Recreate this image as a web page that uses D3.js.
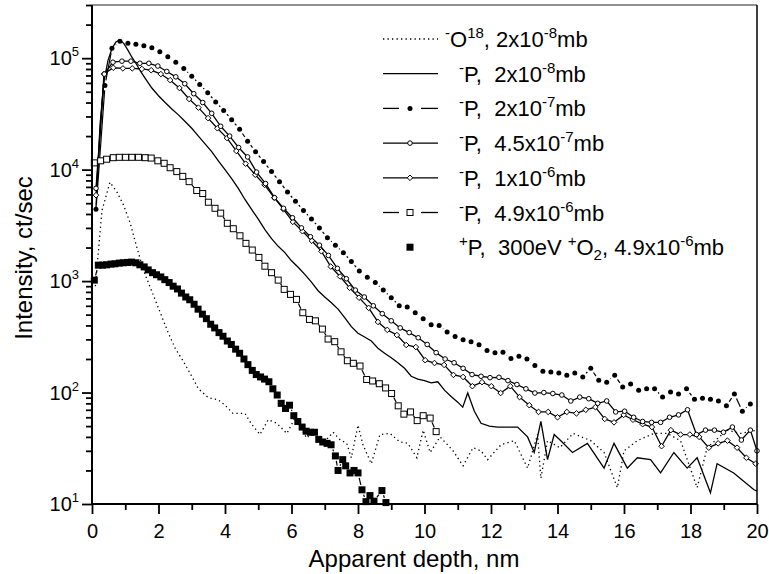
<!DOCTYPE html>
<html>
<head>
<meta charset="utf-8">
<script src="https://cdn.jsdelivr.net/npm/d3@7"></script>
<style>
body{margin:0;background:#fff;}
svg text{font-family:"Liberation Sans",Arial,sans-serif;fill:#000;}
</style>
</head>
<body>
<div class="plot"></div>
<script>
// depth (nm), intensity (ct/sec) pairs
var o18 = [[0.1,900],[0.3,4300],[0.54,7700],[0.75,6300],[0.95,4800],[1.15,3300],[1.35,2000],[1.55,1250],[1.7,960],[1.9,680],[2.1,480],[2.3,340],[2.5,250],[2.75,190],[3.0,140],[3.2,108],[3.5,90],[3.8,86],[4.0,77],[4.24,65],[4.6,65],[4.8,52],[5.05,42],[5.3,57],[5.56,53],[5.86,43],[6.1,59],[6.46,39],[6.7,46],[6.95,35],[7.25,44],[7.45,38],[7.66,35],[7.8,26],[8.0,51],[8.15,34],[8.4,23],[8.66,42],[8.96,43],[9.26,36],[9.5,35],[9.77,26],[9.96,46],[10.17,29],[10.47,40],[10.86,30],[11.16,22],[11.46,32],[11.7,30],[11.9,25],[12.3,34],[12.7,37],[13.1,21],[13.4,42],[13.5,17],[13.7,37],[14.07,32],[14.47,43],[15.0,37],[15.4,29],[15.8,14],[16.0,30],[16.4,37],[16.9,43],[17.3,43],[17.7,37],[18.2,14],[18.5,32],[19.1,46],[19.5,43],[20,46]];

var p2e8 = [[0.12,4500],[0.24,25000],[0.36,62000],[0.48,95000],[0.6,122000],[0.72,140000],[0.84,146000],[0.96,135000],[1.08,118000],[1.2,102000],[1.32,90000],[1.44,78000],[1.6,66000],[1.8,54000],[2.0,46000],[2.2,40000],[2.4,35000],[2.6,31000],[2.8,27000],[3.0,23500],[3.2,20000],[3.4,17000],[3.6,14500],[3.8,12000],[4.0,10000],[4.2,8300],[4.4,6800],[4.6,5400],[4.8,4400],[5.0,3600],[5.2,2900],[5.4,2400],[5.6,2050],[5.8,1800],[6.0,1520],[6.2,1330],[6.4,1150],[6.6,980],[6.8,820],[7.0,720],[7.2,640],[7.4,560],[7.6,470],[7.8,390],[8.0,340],[8.2,315],[8.4,290],[8.6,250],[8.8,225],[9.0,205],[9.2,185],[9.4,165],[9.6,140],[9.8,132],[10.0,128],[10.2,122],[10.4,125],[10.6,105],[10.8,92],[11.0,82],[11.15,74],[11.3,99],[11.5,68],[11.7,53],[11.95,50],[12.2,49],[12.5,49],[12.8,49],[13.1,40],[13.3,29],[13.5,55],[13.7,25],[13.9,42],[14.1,37],[14.45,29],[14.9,35],[15.4,21],[15.7,35],[16.1,21],[16.4,26],[16.8,25],[17.1,19],[17.5,29],[17.9,21],[18.2,26],[18.6,12.6],[18.8,23],[19.3,19],[19.9,13.5],[20,13]];

var p2e7 = [[0.12,4400],[0.39,57000],[0.6,123000],[0.84,142000],[1.08,136000],[1.32,133000],[1.56,129000],[1.8,124000],[2.04,114000],[2.28,103000],[2.52,92000],[2.76,81000],[3.0,69000],[3.24,58000],[3.48,49000],[3.72,40500],[3.96,34000],[4.2,28000],[4.44,23000],[4.68,18000],[4.92,14500],[5.16,11800],[5.4,9600],[5.64,7800],[5.88,6300],[6.12,5200],[6.36,4300],[6.6,3600],[6.84,3000],[7.08,2450],[7.32,2100],[7.56,1800],[7.8,1500],[8.04,1230],[8.28,1080],[8.52,970],[8.76,830],[9.0,710],[9.24,600],[9.48,585],[9.72,520],[9.96,460],[10.2,405],[10.44,400],[10.68,350],[10.92,318],[11.16,298],[11.4,285],[11.64,268],[11.88,238],[12.12,228],[12.36,230],[12.6,202],[12.84,212],[13.08,200],[13.32,175],[13.56,155],[13.8,153],[14.04,150],[14.28,143],[14.52,150],[14.76,138],[15.0,165],[15.24,129],[15.48,124],[15.72,143],[15.96,112],[16.2,119],[16.44,105],[16.68,108],[16.92,108],[17.16,91],[17.4,101],[17.64,97],[17.88,108],[18.12,87],[18.36,89],[18.6,87],[18.84,84],[19.08,76],[19.32,97],[19.56,68],[19.8,79]];

var p45e7 = [[0.12,6800],[0.37,72000],[0.63,92000],[0.9,94000],[1.17,94000],[1.44,90000],[1.71,90000],[1.98,85000],[2.25,76000],[2.52,68000],[2.79,59000],[3.06,48000],[3.33,40000],[3.6,32000],[3.87,24500],[4.14,20000],[4.41,15800],[4.68,13000],[4.95,9500],[5.22,7500],[5.49,5600],[5.76,4500],[6.03,3700],[6.3,3000],[6.57,2500],[6.84,2100],[7.11,1700],[7.38,1300],[7.65,1050],[7.92,830],[8.19,720],[8.46,600],[8.73,510],[9.0,440],[9.27,380],[9.54,345],[9.81,310],[10.08,270],[10.35,228],[10.62,200],[10.89,185],[11.16,165],[11.43,145],[11.7,140],[11.97,136],[12.24,137],[12.51,128],[12.78,118],[13.05,108],[13.32,99],[13.59,100],[13.86,98],[14.13,95],[14.4,84],[14.67,91],[14.94,88],[15.21,80],[15.48,84],[15.75,67],[16.02,68],[16.29,60],[16.56,55],[16.83,54],[17.1,54],[17.37,60],[17.64,63],[17.91,70],[18.18,42],[18.45,46],[18.72,46],[18.99,44],[19.26,49],[19.53,37.5],[19.8,46],[20.0,30]];

var p1e6 = [[0.12,5900],[0.36,72000],[0.64,82000],[0.93,81000],[1.21,81000],[1.5,80000],[1.78,78000],[2.07,72000],[2.35,63500],[2.63,54000],[2.92,43000],[3.2,36000],[3.49,29000],[3.77,23500],[4.06,19200],[4.34,14700],[4.62,11300],[4.91,9000],[5.19,7300],[5.48,5600],[5.76,4400],[6.04,3400],[6.33,2800],[6.61,2300],[6.9,1850],[7.18,1350],[7.46,1100],[7.75,870],[8.03,710],[8.32,575],[8.6,430],[8.88,365],[9.17,328],[9.45,267],[9.74,256],[10.02,195],[10.3,184],[10.59,177],[10.87,144],[11.16,138],[11.44,114],[11.73,124],[12.01,114],[12.29,99],[12.58,114],[12.86,91],[13.15,77],[13.43,67],[13.72,67],[14.0,60],[14.28,67],[14.57,65],[14.85,70],[15.14,74],[15.42,58],[15.7,54],[15.99,63],[16.27,57],[16.56,52],[16.84,49],[17.13,33],[17.41,46],[17.7,42],[17.98,42],[18.26,40],[18.55,32],[18.83,35],[19.11,37],[19.4,32],[19.68,26],[19.96,23]];

var p49e6 = [[0.07,11500],[0.26,12000],[0.44,12400],[0.64,12800],[0.82,12900],[1.01,12900],[1.2,12900],[1.4,12900],[1.6,12800],[1.78,12700],[1.98,12000],[2.17,11400],[2.35,10400],[2.55,9600],[2.73,8700],[2.92,7800],[3.15,6500],[3.33,6100],[3.5,5100],[3.7,4500],[3.87,4070],[4.07,3300],[4.25,2950],[4.45,2550],[4.63,2180],[4.82,1900],[5.02,1630],[5.2,1360],[5.4,1190],[5.6,1020],[5.78,843],[5.97,760],[6.15,685],[6.34,520],[6.54,453],[6.72,440],[6.93,371],[7.1,302],[7.3,286],[7.49,232],[7.68,193],[7.86,183],[8.06,173],[8.26,131],[8.44,127],[8.64,120],[8.83,110],[9.01,98],[9.21,76],[9.38,64],[9.58,67],[9.78,56],[9.96,62],[10.17,59],[10.35,44.6]];

var pPlus = [[0.07,1020],[0.19,1390],[0.32,1390],[0.44,1400],[0.57,1420],[0.69,1430],[0.82,1450],[0.94,1460],[1.07,1470],[1.19,1480],[1.32,1460],[1.44,1400],[1.57,1340],[1.69,1260],[1.82,1190],[1.94,1140],[2.07,1090],[2.19,1030],[2.32,970],[2.44,900],[2.57,850],[2.69,780],[2.82,720],[2.94,680],[3.07,620],[3.19,560],[3.32,505],[3.44,460],[3.57,410],[3.69,380],[3.82,345],[3.94,320],[4.07,290],[4.19,270],[4.32,245],[4.44,225],[4.57,200],[4.69,178],[4.82,158],[4.94,145],[5.07,138],[5.19,132],[5.32,125],[5.44,108],[5.57,95],[5.69,80],[5.82,72],[5.94,77],[6.07,62],[6.19,55],[6.32,49],[6.44,45],[6.57,44],[6.69,44],[6.82,38],[6.94,36],[7.07,35],[7.19,34],[7.32,27],[7.4,20],[7.54,25],[7.63,22],[7.76,19],[7.88,20],[8.0,19],[8.12,13.4],[8.24,10.5],[8.36,11.9],[8.48,10.6],[8.72,13.2],[8.84,10.3]];

var xMajor = [0,2,4,6,8,10,12,14,16,18,20];
var xMinor = [1,3,5,7,9,11,13,15,17,19];
var yExp = [1,2,3,4,5];

// legend text pieces: [text, kind] kind: n normal, sup, sub
var legendRows = [
  [["-","sup"],["O","n"],["18","sup"],[", 2x10","n"],["-8","sup"],["mb","n"]],
  [["-","sup"],["P,  2x10","n"],["-8","sup"],["mb","n"]],
  [["-","sup"],["P,  2x10","n"],["-7","sup"],["mb","n"]],
  [["-","sup"],["P,  4.5x10","n"],["-7","sup"],["mb","n"]],
  [["-","sup"],["P,  1x10","n"],["-6","sup"],["mb","n"]],
  [["-","sup"],["P,  4.9x10","n"],["-6","sup"],["mb","n"]],
  [["+","sup"],["P,  300eV ","n"],["+","sup"],["O","n"],["2","sub"],[", 4.9x10","n"],["-6","sup"],["mb","n"]]
];

var W=769, H=574;
var svg=d3.select(".plot").append("svg")
  .attr("width",W).attr("height",H);

var x=d3.scaleLinear().domain([0,20]).range([92,757]);
var y=d3.scaleLog().domain([10,3e5]).range([504,5]);

svg.append("clipPath").attr("id","clip")
  .append("rect").attr("x",92).attr("y",5).attr("width",665).attr("height",499);

var plot=svg.append("g").attr("clip-path","url(#clip)");
var marks=svg.append("g");

var line=d3.line().x(function(d){return x(d[0])}).y(function(d){return y(d[1])});

// dotted O18
plot.append("path").datum(o18).attr("d",line)
  .attr("fill","none").attr("stroke","#000").attr("stroke-width",1.3)
  .attr("stroke-dasharray","1.3,3.2");

// solid P 2e-8
plot.append("path").datum(p2e8).attr("d",line)
  .attr("fill","none").attr("stroke","#000").attr("stroke-width",1.3);

// lines with a gap around every symbol (like Origin)
function gapped(g,data,gap){
  for(var i=0;i<data.length-1;i++){
    var x1=x(data[i][0]),y1=y(data[i][1]),x2=x(data[i+1][0]),y2=y(data[i+1][1]);
    var L=Math.sqrt((x2-x1)*(x2-x1)+(y2-y1)*(y2-y1));
    if(L<=2*gap) continue;
    var ux=(x2-x1)/L, uy=(y2-y1)/L;
    g.append("line")
      .attr("x1",x1+ux*gap).attr("y1",y1+uy*gap)
      .attr("x2",x2-ux*gap).attr("y2",y2-uy*gap)
      .attr("stroke","#000").attr("stroke-width",1.2);
  }
}

gapped(plot,pPlus,5);
gapped(plot,p49e6,4.5);
gapped(plot,p2e7,5);

plot.append("path").datum(p1e6).attr("d",line)
  .attr("fill","none").attr("stroke","#000").attr("stroke-width",1.3);
plot.append("path").datum(p45e7).attr("d",line)
  .attr("fill","none").attr("stroke","#000").attr("stroke-width",1.3);

function inside(d){return d[1]>=10 && d[0]<=20;}

// symbols
function drawSym(g,kind,cx,cy){
  if(kind=="fsq"){
    g.append("rect").attr("x",cx-3.5).attr("y",cy-3.5).attr("width",7).attr("height",7).attr("fill","#000");
  } else if(kind=="osq"){
    g.append("rect").attr("x",cx-3).attr("y",cy-3).attr("width",6).attr("height",6)
      .attr("fill","#fff").attr("stroke","#000").attr("stroke-width",1);
  } else if(kind=="dia"){
    g.append("path").attr("d","M"+cx+","+(cy-2.8)+"L"+(cx+2.8)+","+cy+"L"+cx+","+(cy+2.8)+"L"+(cx-2.8)+","+cy+"Z")
      .attr("fill","#fff").attr("stroke","#000").attr("stroke-width",1);
  } else if(kind=="oc"){
    g.append("circle").attr("cx",cx).attr("cy",cy).attr("r",2.3)
      .attr("fill","#fff").attr("stroke","#000").attr("stroke-width",1);
  } else if(kind=="fc"){
    g.append("circle").attr("cx",cx).attr("cy",cy).attr("r",2.5).attr("fill","#000");
  }
}

[[pPlus,"fsq"],[p49e6,"osq"],[p1e6,"dia"],[p45e7,"oc"],[p2e7,"fc"]].forEach(function(s){
  s[0].filter(inside).forEach(function(d){drawSym(marks,s[1],x(d[0]),y(d[1]));});
});

// axes
var axes=svg.append("g");
var xa=axes.append("g").attr("transform","translate(0,504)")
  .call(d3.axisBottom(x).tickValues(xMajor).tickSize(10).tickPadding(10).tickFormat(d3.format("d")));
var xm=axes.append("g").attr("transform","translate(0,504)")
  .call(d3.axisBottom(x).tickValues(xMinor).tickSize(6).tickFormat(""));
xm.select(".domain").remove();
xa.selectAll("text").attr("font-size",20).attr("font-family",null);

var yMinor=[];
yExp.forEach(function(e){
  for(var m=2;m<=9;m++){var v=m*Math.pow(10,e); if(v<=3e5) yMinor.push(v);}
});
var ya=axes.append("g").attr("transform","translate(92,0)")
  .call(d3.axisLeft(y).tickValues(yExp.map(function(e){return Math.pow(10,e)})).tickSize(10).tickFormat(""));
var ym=axes.append("g").attr("transform","translate(92,0)")
  .call(d3.axisLeft(y).tickValues(yMinor).tickSize(6).tickFormat(""));
ym.select(".domain").remove();

axes.selectAll(".domain").attr("stroke-width",2).attr("d",null);
xa.select(".domain").attr("d","M92,0H757");
ya.select(".domain").attr("d","M0,504V5");
axes.selectAll(".tick line").attr("stroke-width",1.8);

yExp.forEach(function(e){
  var t=axes.append("text").attr("x",79).attr("y",y(Math.pow(10,e))+7)
    .attr("text-anchor","end").attr("font-size",20);
  t.append("tspan").text("10");
  t.append("tspan").attr("font-size",13).attr("dy",-9).text(e);
});

// frame top / right
axes.append("line").attr("x1",92).attr("x2",757).attr("y1",5).attr("y2",5).attr("stroke","#222").attr("stroke-width",1.2);
axes.append("line").attr("x1",757).attr("x2",757).attr("y1",5).attr("y2",504).attr("stroke","#000").attr("stroke-width",1.5);

// axis titles
svg.append("text").attr("x",414).attr("y",567).attr("text-anchor","middle")
  .attr("font-size",24).text("Apparent depth, nm");
svg.append("text").attr("transform","translate(32,258) rotate(-90)").attr("text-anchor","middle")
  .attr("font-size",24).text("Intensity, ct/sec");

// legend
var leg=svg.append("g");
var rowY=function(i){return 39+i*34.7;};
var legStyle=["dot","solid","fc","oc","dia","osq","fsq"];
legendRows.forEach(function(parts,i){
  var cy=rowY(i), st=legStyle[i];
  if(st=="dot"){
    leg.append("line").attr("x1",383).attr("x2",438).attr("y1",cy).attr("y2",cy)
      .attr("stroke","#000").attr("stroke-width",1.3).attr("stroke-dasharray","1.3,3.2");
  } else if(st=="solid"||st=="oc"||st=="dia"){
    leg.append("line").attr("x1",383).attr("x2",438).attr("y1",cy).attr("y2",cy)
      .attr("stroke","#000").attr("stroke-width",1.3);
  } else if(st=="fc"||st=="osq"){
    leg.append("line").attr("x1",383).attr("x2",399).attr("y1",cy).attr("y2",cy).attr("stroke","#000").attr("stroke-width",1.3);
    leg.append("line").attr("x1",421).attr("x2",438).attr("y1",cy).attr("y2",cy).attr("stroke","#000").attr("stroke-width",1.3);
  }
  if(st!="dot"&&st!="solid") drawSym(leg,st,410,cy);
  var tx=(i==0)?445:459;
  var t=leg.append("text").attr("x",tx).attr("y",cy+8).attr("font-size",22).style("white-space","pre");
  var shift=0;
  parts.forEach(function(p){
    var s=t.append("tspan").text(p[0]);
    if(p[1]=="sup"){ s.attr("font-size",15).attr("dy",-9-shift); shift=-9; }
    else if(p[1]=="sub"){ s.attr("font-size",15).attr("dy",5-shift); shift=5; }
    else { s.attr("dy",-shift); shift=0; }
  });
});
</script>
</body>
</html>
